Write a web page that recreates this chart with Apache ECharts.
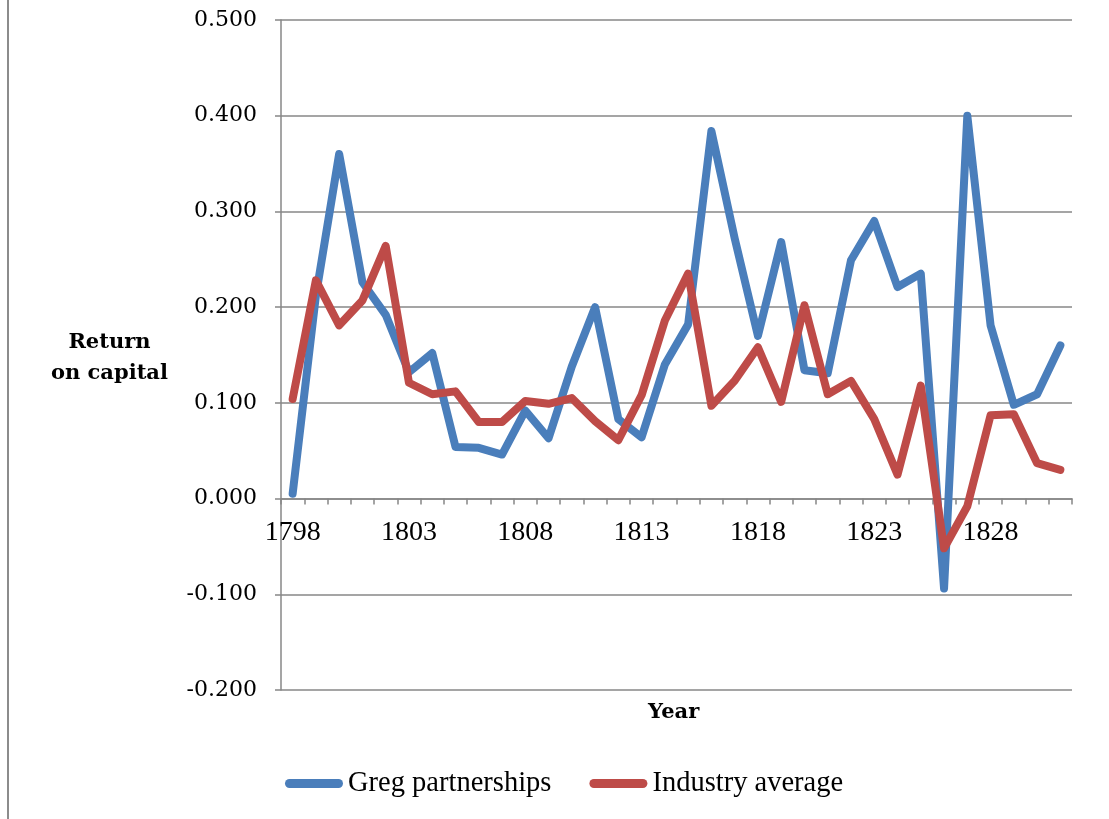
<!DOCTYPE html>
<html>
<head>
<meta charset="utf-8">
<script src="https://cdn.jsdelivr.net/npm/echarts@6/dist/echarts.min.js"></script>
<style>
  html, body { margin: 0; padding: 0; background: #fff; }
  #chart { width: 1109px; height: 819px; }
</style>
</head>
<body>
<div id="chart"></div>
<script>
// Years covered by the series
const years = ['1798','1799','1800','1801','1802','1803','1804','1805','1806','1807',
  '1808','1809','1810','1811','1812','1813','1814','1815','1816','1817',
  '1818','1819','1820','1821','1822','1823','1824','1825','1826','1827',
  '1828','1829','1830','1831'];

// Return on capital, Greg partnerships
const gregPartnerships = [0.005, 0.212, 0.360, 0.226, 0.192, 0.132, 0.152, 0.054, 0.053, 0.046,
  0.092, 0.063, 0.138, 0.200, 0.083, 0.064, 0.140, 0.182, 0.384, 0.272,
  0.170, 0.268, 0.134, 0.131, 0.249, 0.290, 0.221, 0.235, -0.094, 0.400,
  0.181, 0.098, 0.109, 0.160];

// Return on capital, industry average
const industryAverage = [0.104, 0.228, 0.181, 0.207, 0.264, 0.121, 0.109, 0.112, 0.080, 0.080,
  0.102, 0.099, 0.105, 0.081, 0.061, 0.108, 0.186, 0.235, 0.097, 0.123,
  0.158, 0.101, 0.202, 0.109, 0.123, 0.083, 0.025, 0.118, -0.052, -0.008,
  0.087, 0.088, 0.037, 0.030];

const gridGray = '#878787';

const chart = echarts.init(document.getElementById('chart'), null, { renderer: 'canvas' });

chart.setOption({
  backgroundColor: '#ffffff',
  animation: false,
  grid: { left: 281, right: 37, top: 20, bottom: 129, containLabel: false },
  xAxis: {
    type: 'category',
    data: years,
    boundaryGap: true,
    axisLine: { show: true, onZero: true, lineStyle: { color: gridGray, width: 1.5 } },
    axisTick: { show: true, interval: 0, length: 6, lineStyle: { color: gridGray, width: 1.5 } },
    // year labels sit just under the zero line
    axisLabel: { interval: 4, color: '#000', fontFamily: 'Liberation Serif', fontSize: 28, margin: -171 },
    splitLine: { show: false }
  },
  yAxis: {
    type: 'value',
    min: -0.2,
    max: 0.5,
    interval: 0.1,
    axisLine: { show: true, lineStyle: { color: gridGray, width: 1.5 } },
    axisTick: { show: true, length: 6, lineStyle: { color: gridGray, width: 1.5 } },
    axisLabel: {
      color: '#000', fontFamily: 'DejaVu Serif', fontSize: 22, margin: 24,
      formatter: v => v.toFixed(3)
    },
    splitLine: { show: true, lineStyle: { color: gridGray, width: 1.5 } }
  },
  legend: {
    left: 280,
    top: 764,
    itemGap: 38,
    itemWidth: 58,
    itemHeight: 9,
    icon: 'path://M4.5,0 L53.5,0 A4.5,4.5 0 0 1 53.5,9 L4.5,9 A4.5,4.5 0 0 1 4.5,0 Z',
    textStyle: { color: '#000', fontFamily: 'Liberation Serif', fontSize: 28.5 },
    data: ['Greg partnerships', 'Industry average']
  },
  graphic: [
    {
      type: 'line',
      shape: { x1: 8, y1: 0, x2: 8, y2: 819 },
      style: { stroke: '#8c8c8c', lineWidth: 2 }
    },
    {
      type: 'text', left: 51, top: 327,
      style: {
        text: 'Return\non capital', fill: '#000', textAlign: 'center',
        font: 'bold 21px "DejaVu Serif"', lineHeight: 31
      }
    },
    {
      type: 'text', left: 648, top: 702,
      style: { text: 'Year', fill: '#000', font: 'bold 21px "DejaVu Serif"' }
    }
  ],
  series: [
    {
      name: 'Greg partnerships',
      type: 'line',
      data: gregPartnerships,
      symbol: 'none',
      color: '#4a7ebb',
      lineStyle: { width: 8, color: '#4a7ebb', cap: 'round', join: 'round' },
      z: 2
    },
    {
      name: 'Industry average',
      type: 'line',
      data: industryAverage,
      symbol: 'none',
      color: '#be4b48',
      lineStyle: { width: 8, color: '#be4b48', cap: 'round', join: 'round' },
      z: 3
    }
  ]
});
</script>
</body>
</html>
